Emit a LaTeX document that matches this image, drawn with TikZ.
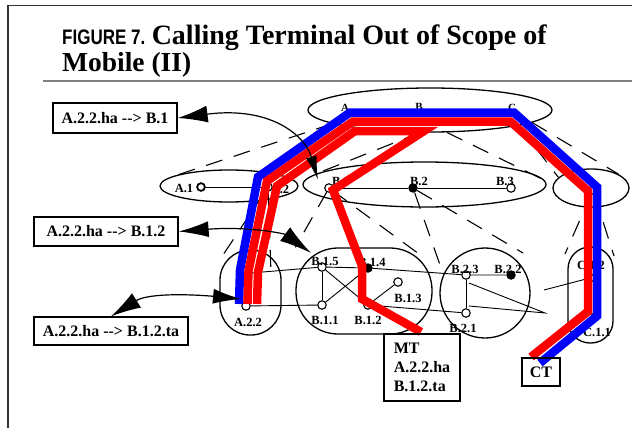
\documentclass[tikz,border=0pt]{standalone}
\usepackage{fontspec}
\setmainfont{Liberation Serif}
\newfontfamily\narrowsans[FakeStretch=0.81]{Liberation Sans}
\usetikzlibrary{shapes.geometric,arrows.meta}

\tikzset{
  lbl/.style={font=\bfseries\fontsize{12.5}{12.5}\selectfont, inner sep=0pt},
  hole/.style={circle, draw, fill=white, line width=1.1pt, inner sep=0pt, minimum size=8.5pt},
  dot/.style={circle, fill=black, inner sep=0pt, minimum size=9.5pt},
  grp/.style={draw, line width=1.3pt, inner sep=0pt},
  cone/.style={line width=1.1pt, dash pattern=on 17pt off 12pt},
  wire/.style={line width=0.9pt},
  tag/.style={draw, line width=1.3pt, font=\bfseries\fontsize{16}{19}\selectfont, inner sep=0pt},
  route/.style={line width=8.5pt},
  callout/.style={line width=1.2pt},
}

\begin{document}
\begin{tikzpicture}[x=1pt, y=-1pt]
  \useasboundingbox (0,0) rectangle (632,428);

  % Page frame and caption
  \draw[line width=1.6pt, black!80] (8,428) -- (8,5.5) -- (632,5.5);
  \draw[line width=1.5pt, black!50] (43,81) -- (632,81);
  \node[anchor=base west, inner sep=0pt, font=\narrowsans\bfseries\fontsize{21}{21}\selectfont] (fig) at (62,45) {FIGURE 7.};
  \node[anchor=base west, inner sep=0pt, font=\bfseries\fontsize{28}{28}\selectfont] (ttl) at ([xshift=6pt]fig.base east) {Calling Terminal Out of Scope of};
  \node[anchor=base west, inner sep=0pt, font=\bfseries\fontsize{27.5}{27.5}\selectfont] (ttl2) at (62,71) {Mobile (II)};

  % Clusters
  \node[grp, ellipse, minimum width=244pt, minimum height=44pt] (top) at (430,110) {};
  \node[grp, ellipse, minimum width=138pt, minimum height=32pt] (ga) at (229,186) {};
  \node[grp, ellipse, minimum width=243pt, minimum height=45pt] (gb) at (424.5,184.5) {};
  \node[grp, ellipse, minimum width=76pt, minimum height=38pt] (gc) at (591,188) {};
  \node[grp, rounded corners=30pt, minimum width=61pt, minimum height=85pt] (ga2) at (250.5,292.5) {};
  \node[grp, rounded corners=42pt, minimum width=136pt, minimum height=86pt] (gb1) at (364,291) {};
  \node[grp, circle, minimum size=90pt] (gb2) at (485,293) {};
  \node[grp, rounded corners=22pt, minimum width=45pt, minimum height=96pt] (gc1) at (590.5,295) {};

  % Terminals
  \foreach \n/\x/\y in {a1/201/187, a2/268/187, b1/329/188, b3/511/188, c1/593/190,
                        a22/246/306, b15/322/267, b11/322/305, b12/368/305, b13/398/282,
                        b23/466/275, b21/466/313, c12/590/278}
    \node[hole] (\n) at (\x,\y) {};
  \node[hole, minimum size=7pt] at (a1) {};
  \foreach \n/\x/\y in {b2/413/188, b14/368/268, b22/511/275, c11/595/317}
    \node[dot] (\n) at (\x,\y) {};
  \coordinate (a2x) at (251,273);
  \coordinate (bx1) at (469,283);
  \coordinate (bx2) at (469,306);
  \coordinate (bxt) at (545,313);
  \coordinate (cx) at (544,290);

  % Labels
  \foreach \n/\x/\y/\txt in {a1/184/188/A.1, a2/280/189/A.2, b1/341/181/B.1, b2/419/181/B.2,
                             b3/505/181/B.3, a22/248/322/A.2.2, b15/325/261/B.1.5,
                             b14/372/262/B.1.4, b13/408/298/B.1.3, b11/325/320/B.1.1,
                             b12/368/320/B.1.2, b23/465/269/B.2.3, b22/508/269/B.2.2,
                             b21/463/328/B.2.1, c12/591/265/C.1.2, c11/597/332/C.1.1}
    \node[lbl] (t\n) at (\x,\y) {\txt};
  \foreach \n/\x/\y in {A/345/108, B/419/107, C/512/108}
    \node[lbl, font=\bfseries\fontsize{11}{11}\selectfont] (t\n) at (\x,\y) {\n};

  % Cones from a cluster member down to its sub-cluster
  \coordinate (g1e) at (419,254);
  \coordinate (h1e) at (440,265);
  \coordinate (i1e) at (523,253);
  \coordinate (j1e) at (221,258);
  \coordinate (k1e) at (271,273);
  \coordinate (l1e) at (565,254);
  \coordinate (m1e) at (614,256);
  \draw[cone] (top.188) -- (ga.173);
  \draw[cone] (top.246) -- (gb.175);
  \draw[cone] (top.307) -- (gb.2);
  \draw[cone] (top.350) -- (gc.162);
  \draw[cone] (top.353) -- (gc.26);
  \draw[cone] (b1) -- (gb1.north west);
  \draw[cone] (b1) -- (g1e);
  \draw[cone] (b2) -- (h1e);
  \draw[cone] (b2) -- (i1e);
  \draw[cone] (a2) -- (j1e);
  \draw[cone] (a2) -- (k1e);
  \draw[cone] (c1) -- (l1e);
  \draw[cone] (c1) -- (m1e);

  % Links
  \draw[wire] (a1) -- (a2);
  \draw[wire] (b1) -- (b2) -- (b3);
  \draw[wire] (a2x) -- (b15) -- (b14) -- (b23) -- (b22);
  \draw[wire] (a22) -- (b11);
  \draw[wire] (b12) -- (b21);
  \draw[wire] (b15) -- (b11);
  \draw[wire] (b15) -- (b12);
  \draw[wire] (b11) -- (b14);
  \draw[wire] (b12) -- (b13);
  \draw[wire] (b23) -- (b21);
  \draw[wire] (bx1) -- (bxt) -- (bx2);
  \draw[wire] (c12) -- (cx);

  % Signalling routes
  \draw[route, blue] (239,304) -- (240,270) -- (258,177) -- (350,112.5) -- (514,112.5)
    -- (597,187) -- (597,316) -- (540,363);
  \draw[route, red] (247.5,304) -- (248.5,271) -- (267,181) -- (353,121.5) -- (510.5,121.5)
    -- (588,191) -- (588,311.5) -- (531,357);
  \draw[route, red] (257,304) -- (258,272) -- (277,186) -- (355,131) -- (424,131)
    -- (333,190) -- (362,266) -- (362,299) -- (421,332);

  % Address boxes
  \node[tag, minimum width=124pt, minimum height=30pt] (box1) at (115,118) {A.2.2.ha -{}-> B.1};
  \node[tag, minimum width=144pt, minimum height=29pt] (box2) at (106,231.5) {A.2.2.ha -{}-> B.1.2};
  \node[tag, minimum width=154pt, minimum height=28pt] (box3) at (111,331) {A.2.2.ha -{}-> B.1.2.ta};
  \node[tag, minimum width=76pt, minimum height=67pt, align=left] (mt) at (422,367.5) {MT\\A.2.2.ha\\B.1.2.ta};
  \node[tag, minimum width=38pt, minimum height=28pt] (ct) at (541,372) {CT};

  % Callouts
  \coordinate (p1) at (318,180);
  \coordinate (p2) at (311,253);
  \coordinate (p3) at (241,299);
  \draw[callout, {Latex[length=30pt,width=17pt]}-{Latex[length=24pt,width=11pt]}]
    (box1.east) .. controls (270,106) and (305,135) .. (p1);
  \draw[callout, {Latex[length=30pt,width=16pt]}-{Latex[length=32pt,width=17pt]}]
    (box2.east) .. controls (250,226) and (285,234) .. (p2);
  \draw[callout, {Latex[length=30pt,width=17pt]}-{Latex[length=28pt,width=15pt]}]
    (box3.north) .. controls (150,292) and (200,295) .. (p3);
\end{tikzpicture}
\end{document}
